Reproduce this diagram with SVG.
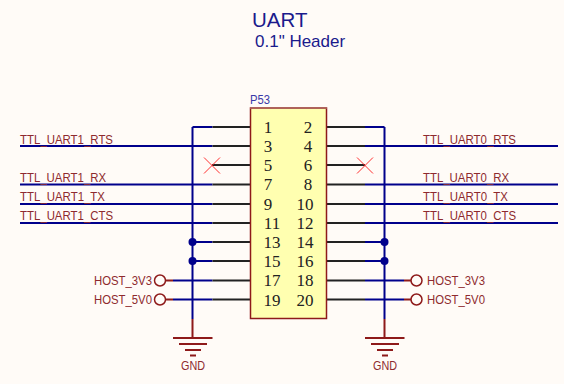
<svg xmlns="http://www.w3.org/2000/svg" width="564" height="384" viewBox="0 0 564 384">
<style>
.net{fill:#8e2a2e;font-family:"Liberation Sans",Arial,sans-serif;font-size:13px}
.pin{fill:#222;font-family:"Liberation Serif","Times New Roman",serif;font-size:17px;text-anchor:middle}
.w{stroke:#00008c;stroke-width:2;fill:none}
.k{stroke:#222;stroke-width:2;fill:none}
.r{stroke:#8e1a1a;stroke-width:2;fill:none}
.x{stroke:#ff3030;stroke-width:1;fill:none}
.c{fill:#fffbf7;stroke:#8e1a1a;stroke-width:1.5}
.t{fill:#1a1a8c;font-family:"Liberation Sans",Arial,sans-serif}
</style>
<rect width="564" height="384" fill="#fffbf7"/>
<g id="title">
<text class="t" x="252" y="27" font-size="20.500">UART</text>
<text class="t" x="255" y="47" font-size="17">0.1" Header</text>
</g>
<g id="connectors">
<path class="w" d="M192.500 127H212.500M20 146H212.500M20 184.500H212.500M20 204H212.500M20 223H212.500M192.500 242H212.500M192.500 261H212.500M173 280.500H212.500M173 299.500H212.500M192.500 127V319"/>
<path class="w" d="M365 127H384.500M365 146H558M365 184.500H558M365 204H558M365 223H558M365 242H384.500M365 261H384.500M365 280.500H404M365 299.500H404M384.500 127V319"/>
<path class="k" d="M212.500 127H250M212.500 146H250M212 165H250M212.500 184.500H250M212.500 204H250M212.500 223H250M212.500 242H250M212.500 261H250M212.500 280.500H250M212.500 299.500H250"/>
<path class="k" d="M327 127H365M327 146H365M327 165H365M327 184.500H365M327 204H365M327 223H365M327 242H365M327 261H365M327 280.500H365M327 299.500H365"/>
<path class="r" d="M192.500 319V338M384.500 319V338M166 280.500H173M166 299.500H173M404 280.500H411M404 299.500H411"/>
<circle cx="192.500" cy="242" r="4" fill="#00008c"/>
<circle cx="192.500" cy="261" r="4" fill="#00008c"/>
<circle cx="384.500" cy="242" r="4" fill="#00008c"/>
<circle cx="384.500" cy="261" r="4" fill="#00008c"/>
</g>
<g id="P53">
<text x="250" y="104" fill="#3a3aa8" font-family="'Liberation Sans',Arial,sans-serif" font-size="12" textLength="20" lengthAdjust="spacingAndGlyphs">P53</text>
<rect x="250.500" y="108" width="76" height="210.500" fill="#ffffb0" stroke="#8e1a1a" stroke-width="1.500"/>
<path d="M250 108H327" stroke="#b06a60" stroke-width="1.500"/>
<text class="pin" x="268" y="133">1</text><text class="pin" x="308" y="133">2</text>
<text class="pin" x="268" y="152">3</text><text class="pin" x="308" y="152">4</text>
<text class="pin" x="268" y="171">5</text><text class="pin" x="308" y="171">6</text>
<text class="pin" x="268" y="190">7</text><text class="pin" x="308" y="190">8</text>
<text class="pin" x="268" y="210">9</text><text class="pin" x="305" y="210">10</text>
<text class="pin" x="272" y="229">11</text><text class="pin" x="305" y="229">12</text>
<text class="pin" x="272" y="248">13</text><text class="pin" x="305" y="248">14</text>
<text class="pin" x="272" y="267">15</text><text class="pin" x="305" y="267">16</text>
<text class="pin" x="272" y="286">17</text><text class="pin" x="305" y="286">18</text>
<text class="pin" x="272" y="306">19</text><text class="pin" x="305" y="306">20</text>
</g>
<g id="noconnect-5"><path class="x" d="M204 157.500L220 173.500M204 173.500L220 157.500"/></g>
<g id="noconnect-6"><path class="x" d="M357 157.500L373 173.500M357 173.500L373 157.500"/></g>
<g id="left-nets">
<text class="net" x="20" y="144" textLength="93" lengthAdjust="spacingAndGlyphs">TTL_UART1_RTS</text>
<text class="net" x="20" y="182" textLength="86" lengthAdjust="spacingAndGlyphs">TTL_UART1_RX</text>
<text class="net" x="20" y="201" textLength="85" lengthAdjust="spacingAndGlyphs">TTL_UART1_TX</text>
<text class="net" x="20" y="220" textLength="93" lengthAdjust="spacingAndGlyphs">TTL_UART1_CTS</text>
</g>
<g id="right-nets">
<text class="net" x="423" y="144" textLength="93" lengthAdjust="spacingAndGlyphs">TTL_UART0_RTS</text>
<text class="net" x="423" y="182" textLength="86" lengthAdjust="spacingAndGlyphs">TTL_UART0_RX</text>
<text class="net" x="423" y="201" textLength="85" lengthAdjust="spacingAndGlyphs">TTL_UART0_TX</text>
<text class="net" x="423" y="220" textLength="93" lengthAdjust="spacingAndGlyphs">TTL_UART0_CTS</text>
</g>
<g id="host-left">
<circle class="c" cx="160" cy="280.500" r="5.500"/>
<circle class="c" cx="160" cy="299.500" r="5.500"/>
<text class="net" x="94" y="285" textLength="58" lengthAdjust="spacingAndGlyphs">HOST_3V3</text>
<text class="net" x="94" y="304" textLength="58" lengthAdjust="spacingAndGlyphs">HOST_5V0</text>
</g>
<g id="host-right">
<circle class="c" cx="416.500" cy="280.500" r="5.500"/>
<circle class="c" cx="416.500" cy="299.500" r="5.500"/>
<text class="net" x="427" y="285" textLength="58" lengthAdjust="spacingAndGlyphs">HOST_3V3</text>
<text class="net" x="427" y="304" textLength="58" lengthAdjust="spacingAndGlyphs">HOST_5V0</text>
</g>
<g id="gnd-left">
<path class="r" d="M173 338H212.500M179 344H207M185 350H201M190 355.500H196"/>
<text class="net" x="181" y="370" textLength="24" lengthAdjust="spacingAndGlyphs">GND</text>
</g>
<g id="gnd-right">
<path class="r" d="M365 338H404.500M371 344H399M377 350H393M382 355.500H388"/>
<text class="net" x="373" y="370" textLength="24" lengthAdjust="spacingAndGlyphs">GND</text>
</g>
</svg>
